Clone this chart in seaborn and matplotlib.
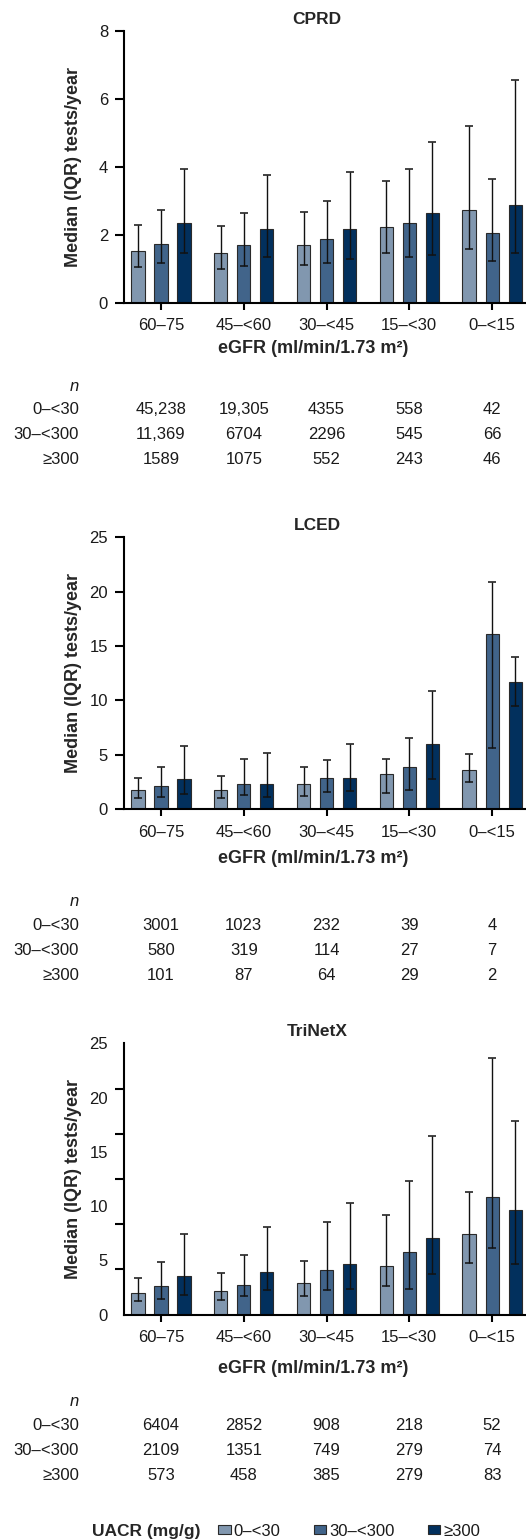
import numpy as np
import pandas as pd
import matplotlib
matplotlib.use("Agg")
import matplotlib.pyplot as plt
from matplotlib import transforms
from matplotlib.patches import Patch
import seaborn as sns

# ---------------- data ----------------
egfr_cats = ["60–75", "45–<60", "30–<45", "15–<30", "0–<15"]
uacr_cats = ["0–<30", "30–<300", "≥300"]
datasets = ["CPRD", "LCED", "TriNetX"]

# medians (rows = UACR category, cols = eGFR category)
cprd_median = [[1.54, 1.48, 1.72, 2.25, 2.75],
               [1.75, 1.72, 1.87, 2.35, 2.07],
               [2.35, 2.19, 2.19, 2.64, 2.89]]
cprd_q1 = [[1.05, 1.01, 1.12, 1.46, 1.58],
           [1.17, 1.10, 1.19, 1.35, 1.23],
           [1.46, 1.34, 1.29, 1.42, 1.46]]
cprd_q3 = [[2.28, 2.27, 2.69, 3.58, 5.20],
           [2.75, 2.64, 3.01, 3.95, 3.64],
           [3.95, 3.76, 3.84, 4.74, 6.55]]

lced_median = [[1.77, 1.80, 2.28, 3.26, 3.57],
               [2.13, 2.28, 2.86, 3.93, 16.1],
               [2.77, 2.28, 2.86, 6.00, 11.7]]
lced_q1 = [[1.00, 1.03, 1.22, 1.52, 2.47],
           [1.13, 1.28, 1.58, 1.77, 5.64],
           [1.37, 1.16, 1.70, 2.80, 9.48]]
lced_q3 = [[2.89, 3.08, 3.93, 4.63, 5.09],
           [3.87, 4.63, 4.51, 6.55, 20.9],
           [5.82, 5.15, 6.00, 10.9, 13.96]]

trinetx_median = [[1.97, 2.21, 2.94, 4.51, 7.39],
                  [2.61, 2.76, 4.11, 5.74, 10.8],
                  [3.56, 3.96, 4.69, 7.09, 9.63]]
trinetx_q1 = [[1.29, 1.35, 1.75, 2.61, 4.76],
              [1.47, 1.69, 2.24, 2.34, 6.11],
              [1.78, 2.30, 2.39, 3.71, 4.69]]
trinetx_q3 = [[3.35, 3.86, 4.97, 9.17, 11.32],
              [4.85, 5.52, 8.56, 12.27, 23.6],
              [7.45, 8.10, 10.25, 16.5, 17.8]]

cprd_n = [["45,238", "19,305", "4355", "558", "42"],
          ["11,369", "6704", "2296", "545", "66"],
          ["1589", "1075", "552", "243", "46"]]
lced_n = [["3001", "1023", "232", "39", "4"],
          ["580", "319", "114", "27", "7"],
          ["101", "87", "64", "29", "2"]]
trinetx_n = [["6404", "2852", "908", "218", "52"],
             ["2109", "1351", "749", "279", "74"],
             ["573", "458", "385", "279", "83"]]

ylims = [8, 25, 25]
yticks = [[0, 2, 4, 6, 8], [0, 5, 10, 15, 20, 25], [0, 5, 10, 15, 20, 25]]

colors = ["#8197AF", "#41648A", "#02305D"]

# ---------------- style ----------------
sns.set_theme(style="ticks")
plt.rcParams["font.family"] = ["Liberation Sans", "DejaVu Sans"]

W, H = 526, 1540
fig = plt.figure(figsize=(W / 100, H / 100), dpi=100)

def fx(px):
    return px / W

def fy(py):
    return 1 - py / H

ax_left, ax_right = 124, 526
panel_top = [31, 537.3, 1043.3]
panel_bot = [303, 809.3, 1314.7]
title_base = [24, 530, 1036]
xlabel_base = [353.3, 863.3, 1373.3]
n_base = [391, 905.7, 1405.7]
row_base = [[413.5, 439, 464.5], [930, 955, 980], [1430, 1455, 1480]]

all_median = [cprd_median, lced_median, trinetx_median]
all_q1 = [cprd_q1, lced_q1, trinetx_q1]
all_q3 = [cprd_q3, lced_q3, trinetx_q3]
all_n = [cprd_n, lced_n, trinetx_n]

FS = 12
BFS = 13
TFS = 12.5

for i, name in enumerate(datasets):
    ax = fig.add_axes([fx(ax_left), fy(panel_bot[i]), fx(ax_right - ax_left),
                       (panel_bot[i] - panel_top[i]) / H])
    rows = []
    for h, u in enumerate(uacr_cats):
        for c, e in enumerate(egfr_cats):
            rows.append(dict(egfr=e, uacr=u, median=all_median[i][h][c],
                             q1=all_q1[i][h][c], q3=all_q3[i][h][c]))
    df = pd.DataFrame(rows)
    sns.barplot(data=df, x="egfr", y="median", hue="uacr", order=egfr_cats,
                hue_order=uacr_cats, palette=colors, width=0.834, gap=0.43,
                errorbar=None, legend=False, edgecolor="#2a2a2a", linewidth=0.8,
                saturation=1, ax=ax)
    bar_containers = list(ax.containers)
    for h, cont in enumerate(bar_containers):
        sub = df[df.uacr == uacr_cats[h]].set_index("egfr").loc[egfr_cats]
        xs = [p.get_x() + p.get_width() / 2 for p in cont.patches]
        med = sub["median"].values
        ax.errorbar(xs, med, yerr=[med - sub["q1"].values, sub["q3"].values - med],
                    fmt="none", ecolor="#111111", elinewidth=1.0, capsize=2.6,
                    capthick=1.1, zorder=5)

    ax.set_xlim(-0.447, 4.41)
    ax.set_ylim(0, ylims[i])
    ax.set_xlabel("")
    ax.set_ylabel("")
    sns.despine(ax=ax)
    for s in ["left", "bottom"]:
        ax.spines[s].set_linewidth(1.5)
        ax.spines[s].set_color("black")
    ax.tick_params(axis="x", length=5, width=1.5, pad=6.0, labelsize=FS,
                   colors="black", labelcolor="#1a1a1a")
    if name == "TriNetX":
        ax.set_yticks(yticks[i])
        ax.tick_params(axis="y", which="major", length=0, pad=11.5,
                       labelsize=FS, labelcolor="#1a1a1a")
        ax.set_yticks(np.linspace(0, 25, 7), minor=True)
        ax.tick_params(axis="y", which="minor", length=6.5, width=1.5,
                       colors="black")
    else:
        ax.set_yticks(yticks[i])
        ax.tick_params(axis="y", length=6.5, width=1.5, pad=5, labelsize=FS,
                       colors="black", labelcolor="#1a1a1a")

    fig.text(fx(317), fy(title_base[i]), name, ha="center", va="baseline",
             fontsize=TFS, fontweight="bold")
    fig.text(fx(313), fy(xlabel_base[i]), "eGFR (ml/min/1.73 m²)", ha="center",
             va="baseline", fontsize=BFS, fontweight="bold")
    fig.text(fx(73), fy((panel_top[i] + panel_bot[i]) / 2), "Median (IQR) tests/year",
             ha="center", va="center", rotation=90, fontsize=BFS, fontweight="bold")

    tr = transforms.blended_transform_factory(ax.transData, fig.transFigure)
    fig.text(fx(79), fy(n_base[i]), "n", ha="right", va="baseline",
             fontsize=FS, style="italic", color="#1a1a1a")
    for h, u in enumerate(uacr_cats):
        fig.text(fx(79), fy(row_base[i][h]), u, ha="right", va="baseline",
                 fontsize=FS, color="#1a1a1a")
        for c in range(len(egfr_cats)):
            ax.text(c, fy(row_base[i][h]), all_n[i][h][c], transform=tr,
                    ha="center", va="baseline", fontsize=FS, color="#1a1a1a",
                    clip_on=False)

# legend
fig.text(fx(92), fy(1536), "UACR (mg/g)", ha="left", va="baseline",
         fontsize=12.5, fontweight="bold")
leg_handles = [Patch(facecolor=c, edgecolor="#2a2a2a", linewidth=0.8) for c in colors]
fig.legend(leg_handles, uacr_cats, ncol=3, loc="center left",
           bbox_to_anchor=(fx(203), fy(1531)), frameon=False, fontsize=FS,
           handlelength=0.75, handleheight=0.45, handletextpad=0.18,
           columnspacing=2.0, borderpad=0.4, labelcolor="#1a1a1a")

fig.savefig("out.png", dpi=100)
